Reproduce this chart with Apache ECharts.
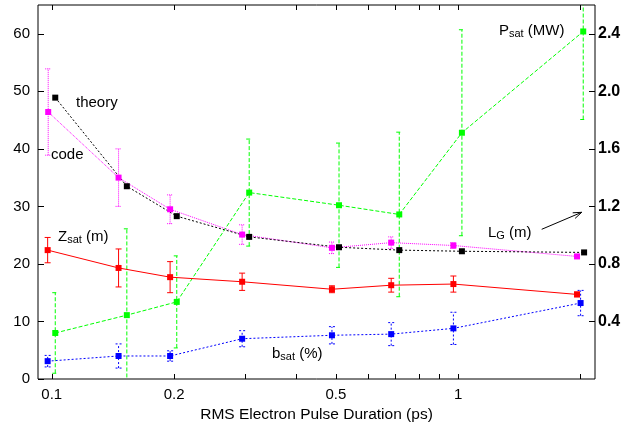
<!DOCTYPE html>
<html>
<head>
<meta charset="utf-8">
<script src="https://cdn.jsdelivr.net/npm/echarts@6/dist/echarts.min.js"></script>
<style>
html,body{margin:0;padding:0;background:#fff;}
#chart{width:643px;height:433px;}
</style>
</head>
<body>
<div id="chart"></div>
<script>
// ---- data ----
const xRange = [0.0925, 2.17];
const xTickValues = [0.1, 0.2, 0.3, 0.4, 0.5, 0.6, 0.7, 0.8, 0.9, 1, 2];
const xTickLabels = [0.1, 0.2, 0.5, 1];
const leftTicks = [0, 10, 20, 30, 40, 50, 60];
const rightTicks = [0.4, 0.8, 1.2, 1.6, 2.0, 2.4];

// L_G from code (m), right axis
const codeX   = [0.098, 0.146, 0.1955, 0.294, 0.489, 0.684, 0.973, 1.96];
const codeLG  = [1.856, 1.40, 1.18, 1.004, 0.912, 0.948, 0.928, 0.852];
const codeErr = [0.30, 0.20, 0.10, 0.068, 0.04, 0.04, 0.02, 0.012];

// L_G from theory (m), right axis
const theoryX  = [0.102, 0.153, 0.203, 0.306, 0.509, 0.716, 1.021, 2.04];
const theoryLG = [1.956, 1.34, 1.132, 0.988, 0.916, 0.896, 0.888, 0.88];

// P_sat (MW), right axis
const powerX   = [0.102, 0.153, 0.203, 0.306, 0.509, 0.716, 1.021, 2.03];
const power    = [0.32, 0.444, 0.536, 1.296, 1.208, 1.144, 1.712, 2.416];
const powerErr = [0.28, 0.60, 0.32, 0.372, 0.432, 0.572, 0.716, 0.612];

// Z_sat (m), left axis
const zsatX   = [0.0977, 0.146, 0.1955, 0.294, 0.489, 0.684, 0.973, 1.96];
const zsat    = [22.4, 19.3, 17.7, 16.9, 15.6, 16.3, 16.5, 14.7];
const zsatErr = [2.2, 3.3, 2.7, 1.5, 0.6, 1.2, 1.4, 0.4];

// b_sat (%), left axis
const bsatX   = [0.0977, 0.146, 0.1955, 0.294, 0.489, 0.684, 0.973, 2.0];
const bsat    = [3.1, 4.0, 4.0, 7.0, 7.6, 7.8, 8.8, 13.2];
const bsatErr = [1.0, 2.1, 0.9, 1.4, 1.5, 2.0, 2.8, 2.2];

// ---- build ----
const FONT = '"Liberation Sans", Arial, Helvetica, sans-serif';
const pairs = (xs, ys) => xs.map((x, i) => [x, ys[i]]);
const errs = (xs, ys, es) => xs.map((x, i) => [x, ys[i] - es[i], ys[i] + es[i]]);

function lineSeries(name, xs, ys, color, dash, yIdx) {
  return {
    name, type: 'line', xAxisIndex: 2, yAxisIndex: yIdx,
    data: pairs(xs, ys), symbol: 'rect', symbolSize: 6,
    itemStyle: { color }, lineStyle: { color, width: 1, type: dash },
    animation: false, z: 3
  };
}
function errSeries(xs, ys, es, color, dash, yIdx) {
  return {
    type: 'custom', xAxisIndex: 2, yAxisIndex: yIdx, clip: true,
    data: errs(xs, ys, es), encode: { x: 0, y: [1, 2] },
    animation: false, z: 2, silent: true,
    renderItem(params, api) {
      const x = api.value(0);
      const lo = api.coord([x, api.value(1)]);
      const hi = api.coord([x, api.value(2)]);
      const w = 3;
      const style = { stroke: color, lineWidth: 1, lineDash: dash, fill: null };
      return {
        type: 'group',
        children: [
          { type: 'line', shape: { x1: lo[0], y1: lo[1], x2: hi[0], y2: hi[1] }, style },
          { type: 'line', shape: { x1: lo[0] - w, y1: lo[1], x2: lo[0] + w, y2: lo[1] }, style },
          { type: 'line', shape: { x1: hi[0] - w, y1: hi[1], x2: hi[0] + w, y2: hi[1] }, style }
        ]
      };
    }
  };
}

const L10 = v => Math.log10(v);
const fmtX = v => String(+Math.pow(10, v).toPrecision(3));
const noLine = { show: false, onZero: false };

const chart = echarts.init(document.getElementById('chart'), null, { renderer: 'canvas' });
const option = {
  backgroundColor: '#fff',
  animation: false,
  grid: { left: 38, right: 48, top: 5, bottom: 54, show: true, borderColor: '#000', borderWidth: 1, outerBoundsMode: 'none' },
  xAxis: [
    {
      type: 'value', position: 'bottom', min: L10(xRange[0]), max: L10(xRange[1]),
      axisLine: noLine, splitLine: { show: false },
      axisTick: { show: true, inside: true, length: 5, customValues: xTickValues.map(L10), lineStyle: { color: '#000' } },
      axisLabel: { customValues: xTickLabels.map(L10), formatter: fmtX, fontSize: 15, color: '#000', margin: 8, fontFamily: FONT },
      name: 'RMS Electron Pulse Duration (ps)', nameLocation: 'middle', nameGap: 27,
      nameTextStyle: { fontSize: 15.5, color: '#000', fontFamily: FONT }
    },
    {
      type: 'value', position: 'top', min: L10(xRange[0]), max: L10(xRange[1]),
      axisLine: noLine, splitLine: { show: false },
      axisTick: { show: true, inside: true, length: 5, customValues: xTickValues.map(L10), lineStyle: { color: '#000' } },
      axisLabel: { show: false }
    },
    {
      type: 'log', logBase: 10, min: xRange[0], max: xRange[1],
      axisLine: noLine, axisTick: { show: false }, axisLabel: { show: false }, splitLine: { show: false }
    }
  ],
  yAxis: [
    {
      type: 'value', position: 'left', min: 0, max: 65, interval: 10,
      axisLine: noLine, splitLine: { show: false },
      axisTick: { show: true, inside: true, length: 6, customValues: leftTicks, lineStyle: { color: '#000' } },
      axisLabel: { customValues: leftTicks, fontSize: 15, color: '#000', margin: 8, fontFamily: FONT }
    },
    {
      type: 'value', position: 'right', min: 0, max: 2.6, interval: 0.4,
      axisLine: noLine, splitLine: { show: false },
      axisTick: { show: true, inside: true, length: 6, customValues: rightTicks, lineStyle: { color: '#000' } },
      axisLabel: { customValues: rightTicks, formatter: v => v.toFixed(1), fontSize: 16, fontWeight: 'bold', color: '#000', margin: 3, fontFamily: FONT }
    }
  ],
  series: [
    errSeries(codeX, codeLG, codeErr, '#ff00ff', [1, 1], 1),
    errSeries(powerX, power, powerErr, '#00ff00', [4, 2], 1),
    errSeries(zsatX, zsat, zsatErr, '#ff0000', null, 0),
    errSeries(bsatX, bsat, bsatErr, '#0000ff', [2, 2], 0),
    lineSeries('code', codeX, codeLG, '#ff00ff', [1, 1], 1),
    lineSeries('theory', theoryX, theoryLG, '#000000', [2, 2], 1),
    lineSeries('Psat', powerX, power, '#00ff00', [4, 2], 1),
    lineSeries('Zsat', zsatX, zsat, '#ff0000', 'solid', 0),
    lineSeries('bsat', bsatX, bsat, '#0000ff', [2, 2], 0)
  ],
  graphic: [
    { type: 'text', left: 76, top: 95, style: { text: 'theory', fontSize: 15, fill: '#000', fontFamily: FONT } },
    { type: 'text', left: 51, top: 147, style: { text: 'code', fontSize: 15, fill: '#000', fontFamily: FONT } },
    { type: 'text', left: 58, top: 229, style: { text: 'Z{s|sat} (m)', fontSize: 15, fill: '#000', fontFamily: FONT,
        rich: { s: { fontSize: 11, fontFamily: FONT, verticalAlign: 'bottom', padding: [7, 0, 0, 0] } } } },
    { type: 'text', left: 272, top: 346, style: { text: 'b{s|sat} (%)', fontSize: 15, fill: '#000', fontFamily: FONT,
        rich: { s: { fontSize: 11, fontFamily: FONT, verticalAlign: 'bottom', padding: [7, 0, 0, 0] } } } },
    { type: 'text', left: 488, top: 225, style: { text: 'L{s|G} (m)', fontSize: 15, fill: '#000', fontFamily: FONT,
        rich: { s: { fontSize: 11, fontFamily: FONT, verticalAlign: 'bottom', padding: [7, 0, 0, 0] } } } },
    { type: 'text', left: 499, top: 23, style: { text: 'P{s|sat} (MW)', fontSize: 15, fill: '#000', fontFamily: FONT,
        rich: { s: { fontSize: 11, fontFamily: FONT, verticalAlign: 'bottom', padding: [7, 0, 0, 0] } } } },
    { type: 'line', shape: { x1: 541.7, y1: 229.3, x2: 581.7, y2: 212.3 }, style: { stroke: '#000', lineWidth: 1 } },
    { type: 'polyline', shape: { points: [[572.7, 212.8], [581.7, 212.3], [575.1, 218.4]] }, style: { stroke: '#000', lineWidth: 1, fill: null } }
  ]
};
chart.setOption(option);
</script>
</body>
</html>
